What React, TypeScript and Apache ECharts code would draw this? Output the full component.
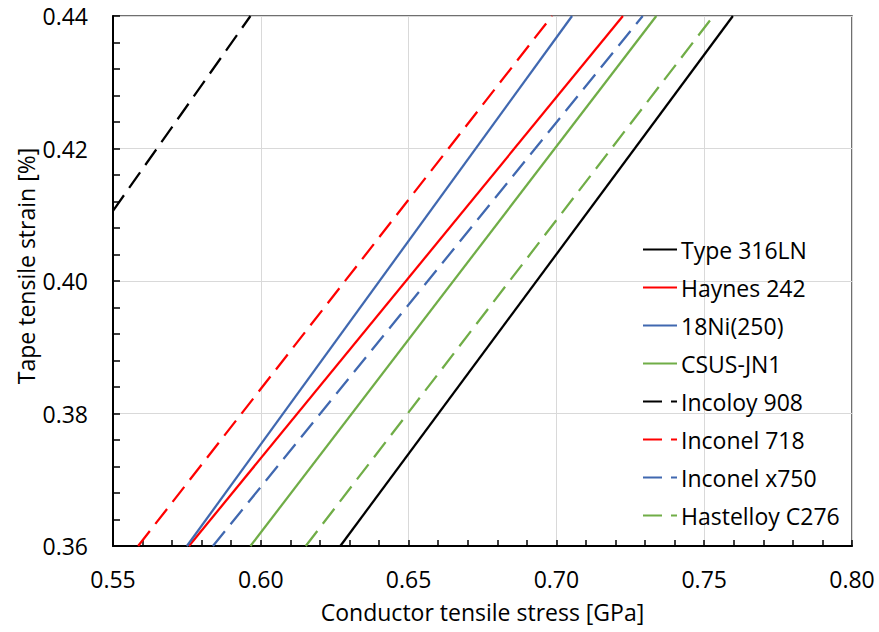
import React, { useEffect, useRef } from "react";
import * as echarts from "echarts";

const seriesNames = [
  "Type 316LN",
  "Haynes 242",
  "18Ni(250)",
  "CSUS-JN1",
  "Incoloy 908",
  "Inconel 718",
  "Inconel x750",
  "Hastelloy C276",
];
const seriesColors = ["#000000", "#FF0000", "#4068B0", "#70AD47", "#000000", "#FF0000", "#4068B0", "#70AD47"];
const seriesDashed = [false, false, false, false, true, true, true, true];

// start point of each line (stress GPa, strain %)
const stressStart = [0.6269, 0.5757, 0.575, 0.5965, 0.55, 0.5585, 0.5838, 0.6152];
const strainStart = [0.36, 0.36, 0.36, 0.36, 0.4106, 0.36, 0.36, 0.36];
// end point of each line
const stressEnd = [0.7597, 0.7225, 0.7053, 0.7338, 0.5965, 0.6985, 0.7292, 0.7531];
const strainEnd = [0.44, 0.44, 0.44, 0.44, 0.44, 0.44, 0.44, 0.44];

const xTicks = { min: 0.55, max: 0.8, interval: 0.05 };
const yTicks = { min: 0.36, max: 0.44, interval: 0.02 };

const FONT = "'Open Sans', 'Noto Sans', sans-serif";

export default function App() {
  const ref = useRef<HTMLDivElement>(null);
  useEffect(() => {
    if (!ref.current) return;
    const chart = echarts.init(ref.current, undefined, { renderer: "svg" });
    const series = seriesNames.map((name, i) => ({
      name,
      type: "line",
      data: [
        [stressStart[i], strainStart[i]],
        [stressEnd[i], strainEnd[i]],
      ],
      symbol: "none",
      lineStyle: {
        color: seriesColors[i],
        width: 2.25,
        type: seriesDashed[i] ? [19, 9] : "solid",
      },
      itemStyle: { color: seriesColors[i] },
      clip: true,
    }));
    chart.setOption({
      animation: false,
      backgroundColor: "#ffffff",
      textStyle: { fontFamily: FONT },
      grid: {
        left: 113,
        right: 27,
        top: 16,
        bottom: 86,
        show: true,
        borderColor: "#404040",
        borderWidth: 1.5,
        backgroundColor: "transparent",
      },
      legend: {
        orient: "vertical",
        left: 642,
        top: 238,
        itemWidth: 34,
        itemHeight: 14,
        itemGap: 15,
        padding: 0,
        data: seriesNames,
        itemStyle: { opacity: 0 },
        lineStyle: { width: 2 },
        textStyle: { fontFamily: FONT, fontSize: 23, color: "#000", lineHeight: 23, padding: [0, 0, 0, -1] },
      },
      xAxis: {
        type: "value",
        min: xTicks.min,
        max: xTicks.max,
        interval: xTicks.interval,
        name: "Conductor tensile stress [GPa]",
        nameLocation: "middle",
        nameGap: 54,
        nameTextStyle: { fontFamily: FONT, fontSize: 23, color: "#000" },
        axisLine: { show: true, lineStyle: { color: "#000", width: 2 } },
        axisTick: { show: true, inside: true, length: 6, lineStyle: { color: "#000", width: 1.5 } },
        minorTick: { show: true, splitNumber: 5, length: 6, lineStyle: { color: "#000", width: 1.5 } },
        splitLine: { show: true, lineStyle: { color: "#D9D9D9", width: 1 } },
        axisLabel: {
          fontFamily: FONT,
          fontSize: 23,
          color: "#000",
          margin: 21,
          formatter: (v: number) => v.toFixed(2),
        },
      },
      yAxis: {
        type: "value",
        min: yTicks.min,
        max: yTicks.max,
        interval: yTicks.interval,
        axisLine: { show: true, lineStyle: { color: "#000", width: 2 } },
        axisTick: { show: true, inside: true, length: 7, lineStyle: { color: "#000", width: 1.5 } },
        minorTick: { show: true, splitNumber: 5, length: 7, lineStyle: { color: "#000", width: 1.5 } },
        splitLine: { show: true, lineStyle: { color: "#D9D9D9", width: 1 } },
        axisLabel: {
          fontFamily: FONT,
          fontSize: 23,
          color: "#000",
          margin: 25,
          formatter: (v: number) => v.toFixed(2),
        },
      },
      graphic: [
        {
          type: "text",
          x: 26,
          y: 266,
          rotation: Math.PI / 2,
          style: {
            text: "Tape tensile strain [%]",
            fontFamily: FONT,
            fontSize: 23,
            fill: "#000",
            textAlign: "center",
            textVerticalAlign: "middle",
          },
        },
      ],
      series,
    });
    return () => chart.dispose();
  }, []);
  return (
    <div
      ref={ref}
      style={{ position: "fixed", left: 0, top: 0, width: 879, height: 632 }}
    />
  );
}
